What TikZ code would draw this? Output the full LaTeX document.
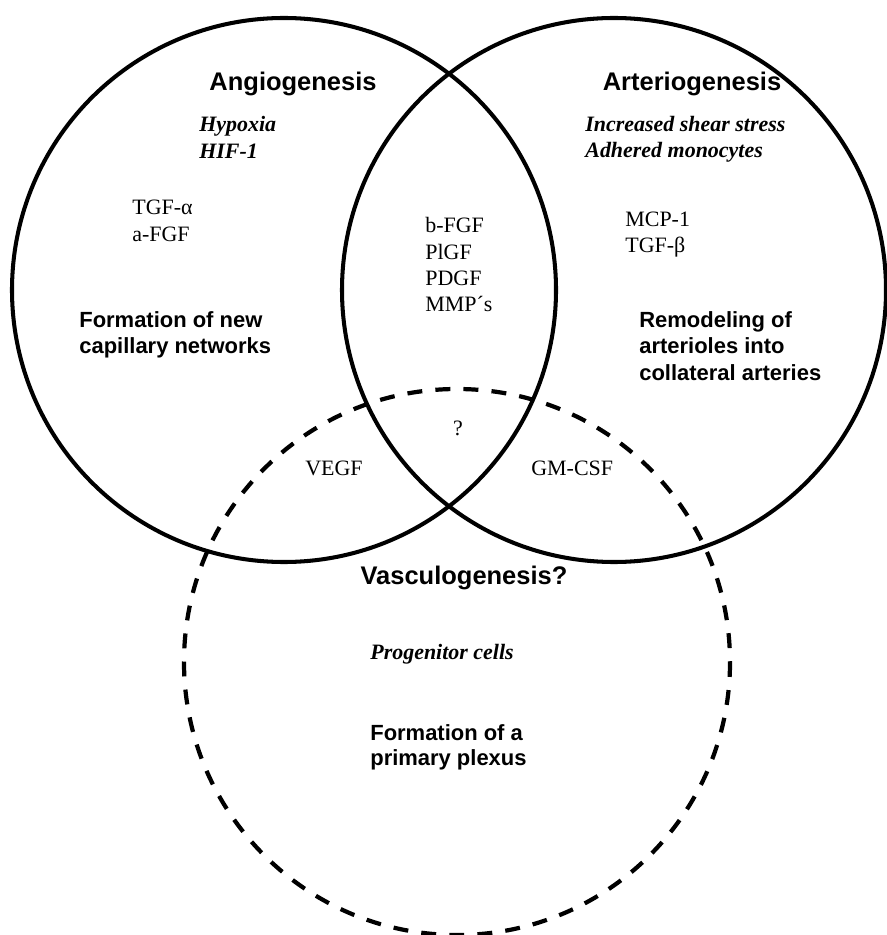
\documentclass[tikz,border=0pt]{standalone}
\usepackage{fontspec}
\setmainfont{Liberation Serif}
\setsansfont{Liberation Sans}

\begin{document}
\begin{tikzpicture}[x=0.02cm, y=-0.02cm,
	every node/.style={inner sep=0pt, anchor=base west},
	ring/.style={draw=black, line width=2.3pt},
	dring/.style={draw=black, line width=2.4pt, dash pattern=on 8.5pt off 7.5pt},
	ttl/.style={anchor=base, font=\sffamily\bfseries\fontsize{14.5}{17}\selectfont},
	what/.style={font=\sffamily\bfseries\fontsize{12.5}{15}\selectfont},
	cue/.style={font=\bfseries\itshape\fontsize{12.5}{15}\selectfont},
	fac/.style={font=\fontsize{12.5}{15}\selectfont}]
			\useasboundingbox (0,0) rectangle (886,935);
			\coordinate (angio) at (284,290);
			\coordinate (arterio) at (614,290);
			\coordinate (vasculo) at (457,662);
			
			\path[ring] (angio) circle [radius=272];
			\path[ring] (arterio) circle [radius=272];
			\path[dring] (vasculo) circle [radius=273];
			
			\node[ttl] (angiot) at (293,91) {Angiogenesis};
			\node[ttl] (arteriot) at (692,91) {Arteriogenesis};
			\node[ttl] (vasculot) at (464,584) {Vasculogenesis?};
			
			\node[cue] (hyp) at (199,132) {Hypoxia};
			\node[cue] (hif) at (199,159) {HIF-1};
			\node[cue] (shear) at (585,132) {Increased shear stress};
			\node[cue] (mono) at (585,158) {Adhered monocytes};
			\node[cue] (prog) at (370,659) {Progenitor cells};
			
			\node[fac] (tgfa) at (132,215) {TGF-α};
			\node[fac] (afgf) at (132,242) {a-FGF};
			\node[fac] (bfgf) at (425,233) {b-FGF};
			\node[fac] (plgf) at (425,260) {PlGF};
			\node[fac] (pdgf) at (425,286) {PDGF};
			\node[fac] (mmp) at (425,312) {MMP´s};
			\node[fac] (mcp) at (625,227) {MCP-1};
			\node[fac] (tgfb) at (625,253) {TGF-β};
			\node[fac, anchor=base] (unk) at (458,435) {?};
			\node[fac] (vegf) at (305,475) {VEGF};
			\node[fac] (gmcsf) at (531,475) {GM-CSF};
			
			\node[what] (angio1) at (79,328) {Formation of new};
			\node[what] (angio2) at (79,354) {capillary networks};
			\node[what] (arterio1) at (639,328) {Remodeling of};
			\node[what] (arterio2) at (639,354) {arterioles into};
			\node[what] (arterio3) at (639,380) {collateral arteries};
			\node[what] (vasculo1) at (370,740) {Formation of a};
			\node[what] (vasculo2) at (370,765) {primary plexus};
\end{tikzpicture}
\end{document}
